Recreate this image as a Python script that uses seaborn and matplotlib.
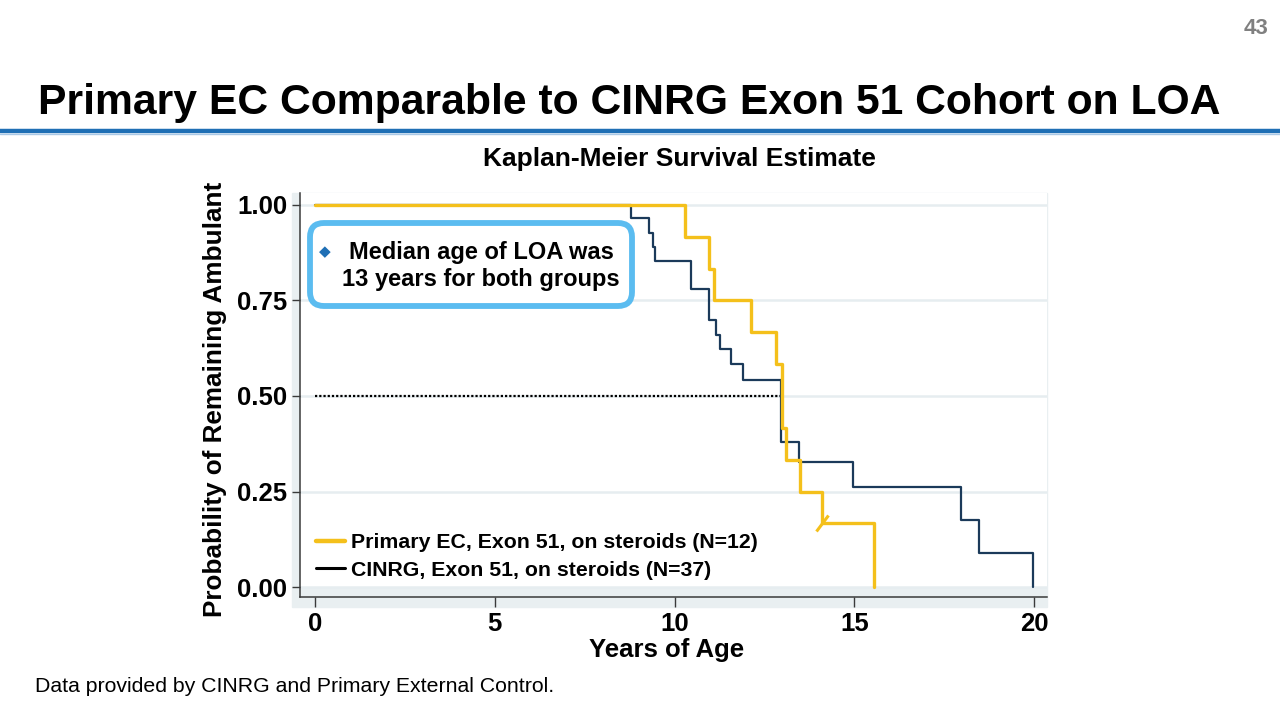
import pandas as pd
import matplotlib
matplotlib.use("Agg")
import matplotlib.pyplot as plt
import seaborn as sns
from matplotlib.lines import Line2D
from matplotlib.patches import FancyBboxPatch, Rectangle
from matplotlib.markers import MarkerStyle
from matplotlib.transforms import Affine2D, IdentityTransform

# Kaplan-Meier step points (years of age, probability still ambulant)
ec_years = [0, 10.3, 10.97, 11.1, 12.12, 12.83, 13.0, 13.1, 13.5, 14.1, 15.56]
ec_surv = [1.0, 0.917, 0.833, 0.75, 0.667, 0.583, 0.417, 0.333, 0.25, 0.167, 0.0]
ec_censor_years = [14.1]
ec_censor_surv = [0.167]

cinrg_years = [0, 8.78, 9.28, 9.39, 9.45, 10.47, 10.97, 11.16, 11.27, 11.58,
               11.9, 12.97, 13.47, 14.97, 17.97, 18.47, 19.97]
cinrg_surv = [1.0, 0.966, 0.927, 0.89, 0.853, 0.78, 0.70, 0.66, 0.623, 0.584,
              0.542, 0.38, 0.327, 0.262, 0.175, 0.089, 0.0]

median_age = 12.97
median_prob = 0.5

group_labels = ["Primary EC, Exon 51, on steroids (N=12)",
                "CINRG, Exon 51, on steroids (N=37)"]
x_ticks = [0, 5, 10, 15, 20]
y_ticks = [0, 0.25, 0.5, 0.75, 1.0]

yellow = "#f4c01b"
navy = "#1b3a5a"
band = "#e9eff1"

sns.set_style("white")
plt.rcParams["font.family"] = ["Liberation Sans", "DejaVu Sans"]
plt.rcParams["text.color"] = "black"
plt.rcParams["axes.labelcolor"] = "black"

W, H = 1280, 720
fig = plt.figure(figsize=(12.8, 7.2), dpi=100)


def fx(x):
    return x / W


def fy(y):
    return 1 - y / H


# plot area: axis lines at x=300px and y=597px
ax = fig.add_axes([fx(300), fy(597), (1047 - 300) / W, (597 - 193) / H])

# light band around the plot region
fig.patches.append(Rectangle((fx(292), fy(607)), (1047 - 292) / W, (607 - 193) / H,
                             transform=fig.transFigure, color=band, zorder=-1))
ax.set_facecolor(band)
ax.axhspan(0, 2, color="white", zorder=0, lw=0)

ec = pd.DataFrame({"years": ec_years, "surv": ec_surv, "group": group_labels[0]})
cinrg = pd.DataFrame({"years": cinrg_years, "surv": cinrg_surv, "group": group_labels[1]})

sns.lineplot(data=cinrg, x="years", y="surv", color=navy, lw=1.6, estimator=None,
             sort=False, drawstyle="steps-post", legend=False, ax=ax, zorder=3)
sns.lineplot(data=ec, x="years", y="surv", color=yellow, lw=2.4, estimator=None,
             sort=False, drawstyle="steps-post", legend=False, ax=ax, zorder=4)

censor_marker = MarkerStyle("|", transform=Affine2D().rotate_deg(-37))
ax.plot(ec_censor_years, ec_censor_surv, ls="none", marker=censor_marker,
        markersize=14, markeredgewidth=2.2, color=yellow, zorder=4)

ax.plot([0, median_age], [median_prob, median_prob], color="black",
        ls=(0, (1, 0.9)), lw=1.6, zorder=2)

ax.set_xlim(-0.417, 20.36)
ax.set_ylim(-0.026, 1.031)
ax.set_xticks(x_ticks, labels=[str(v) for v in x_ticks], fontweight="bold")
ax.set_yticks(y_ticks, labels=[f"{v:.2f}" for v in y_ticks], fontweight="bold")
ax.grid(axis="y", color="#e6edf0", lw=1.8)
ax.grid(axis="x", visible=False)
ax.set_axisbelow(True)

for side in ["top", "right"]:
    ax.spines[side].set_visible(False)
for side in ["left", "bottom"]:
    ax.spines[side].set_color("#3a3a3a")
    ax.spines[side].set_linewidth(1.1)

ax.tick_params(axis="y", direction="out", length=5.8, width=1, color="#3a3a3a",
               labelcolor="black", pad=3.5, labelsize=18.5, left=True)
ax.tick_params(axis="x", direction="out", length=7, width=1, color="#3a3a3a",
               labelcolor="black", pad=4, labelsize=18.5, bottom=True)

ax.set_xlabel("Years of Age", fontsize=18.5, fontweight="bold")
ax.xaxis.set_label_coords((667 - 300) / 747, (597 - 638) / 404)
ax.set_ylabel("Probability of Remaining Ambulant", fontsize=18.8, fontweight="bold")
ax.yaxis.set_label_coords((227 - 300) / 747, (597 - 399) / 404)

handles = [Line2D([], [], color=yellow, lw=3.2), Line2D([], [], color="black", lw=2.2)]
ax.legend(handles=handles, labels=group_labels, loc="upper left",
          bbox_to_anchor=((316 - 300) / 747, (597 - 533) / 404), frameon=False,
          prop={"weight": "bold", "size": 15.3}, handlelength=1.38,
          handletextpad=0.25, labelspacing=0.42, borderpad=0, borderaxespad=0)

# callout box
box = FancyBboxPatch((310, H - 306), 322, 83, boxstyle="round,pad=0,rounding_size=14",
                     transform=IdentityTransform(), facecolor="white",
                     edgecolor="#5bbcf0", lw=4.2, zorder=5)
fig.add_artist(box)
fig.text(fx(481), fy(266), "Median age of LOA was\n13 years for both groups",
         ha="center", va="center", fontsize=17, fontweight="bold", zorder=6)
fig.text(fx(325), fy(252), "\u25C6", ha="center", va="center", fontsize=11,
         color="#1f6fb5", family=["DejaVu Sans"], zorder=6)

# slide texts
fig.text(fx(679), fy(159), "Kaplan-Meier Survival Estimate", ha="center", va="center",
         fontsize=19, fontweight="bold")
fig.text(fx(38), fy(103), "Primary EC Comparable to CINRG Exon 51 Cohort on LOA",
         ha="left", va="center", fontsize=30.7, fontweight="bold")
fig.text(fx(1268), fy(28), "43", ha="right", va="center", fontsize=16,
         fontweight="bold", color="#808080")
fig.text(fx(35), fy(686), "Data provided by CINRG and Primary External Control.",
         ha="left", va="center", fontsize=15.3)
fig.add_artist(Line2D([0, 1], [fy(131), fy(131)], transform=fig.transFigure,
                      color="#1f6fb5", lw=3.2))
fig.add_artist(Line2D([0, 1], [fy(134), fy(134)], transform=fig.transFigure,
                      color="#a9c8e6", lw=1))

fig.savefig("out.png", dpi=100)
